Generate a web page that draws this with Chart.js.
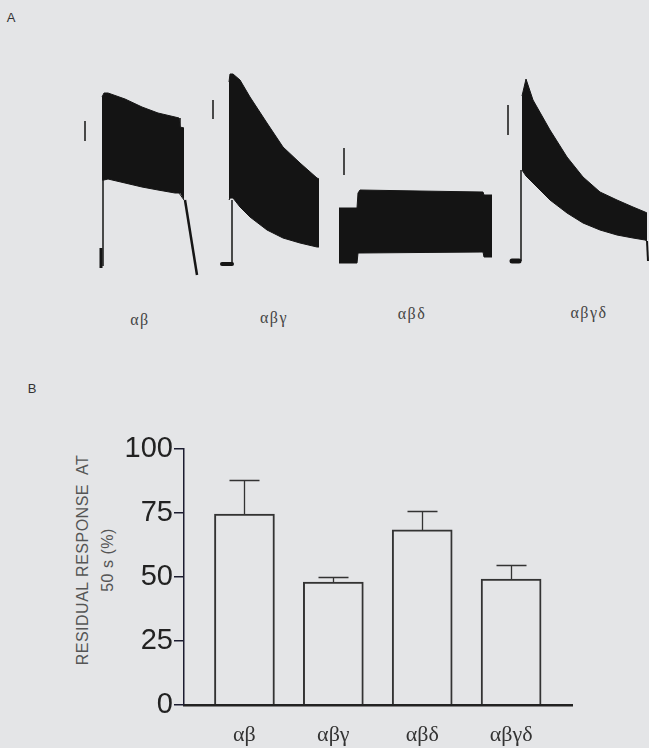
<!DOCTYPE html>
<html>
<head>
<meta charset="utf-8">
<script src="https://cdn.jsdelivr.net/npm/chart.js@4.4.1/dist/chart.umd.min.js"></script>
<style>
  html, body { margin: 0; padding: 0; }
  body {
    width: 649px; height: 748px; position: relative; overflow: hidden;
    background: #e4e5e7; font-family: "Liberation Sans", Arial, sans-serif;
  }
  canvas { position: absolute; left: 0; }
  #traces { top: 60px; }
  #bars { top: 370px; }
  .lbl { position: absolute; transform: translate(-50%, -50%); white-space: nowrap; line-height: 1; }
  .panel { font-size: 13px; color: #333; }
  .sub { font-family: "Liberation Serif", "Times New Roman", serif; font-size: 16px; letter-spacing: 1.5px; color: #444; }
  #ytitle {
    position: absolute; left: 95px; top: 560px; white-space: nowrap;
    transform: translate(-50%, -50%) rotate(-90deg);
    text-align: center; font-size: 16px; letter-spacing: 0.5px; line-height: 25px; color: #555;
  }
</style>
</head>
<body>
<div class="lbl panel" style="left:11px;top:17px">A</div>
<div class="lbl panel" style="left:32px;top:388px">B</div>

<div class="lbl sub" style="left:140px;top:320px">αβ</div>
<div class="lbl sub" style="left:274px;top:318px">αβγ</div>
<div class="lbl sub" style="left:412px;top:314px">αβδ</div>
<div class="lbl sub" style="left:589px;top:313px">αβγδ</div>

<div id="ytitle">RESIDUAL RESPONSE&nbsp; AT<br>50 s (%)</div>

<canvas id="traces" width="649" height="225"></canvas>
<canvas id="bars" width="649" height="378"></canvas>

<script>
// ---- Panel A: current traces (time in s from onset, current in pA) ----
// upper / lower edge of the black band at each time point
const abTime  = [0, 2, 6, 23, 40, 56, 73, 77, 78, 82];
const abUpper = [1690, 1730, 1730, 1670, 1590, 1530, 1490, 1480, 1390, 1380];
const abLower = [860, 860, 870, 830, 790, 760, 730, 730, 730, 660];

const abgTime  = [-1, 0, 3, 10, 20, 37, 53, 70, 87, 89];
const abgUpper = [1820, 1900, 1900, 1840, 1670, 1410, 1170, 1010, 860, 850];
const abgLower = [640, 660, 660, 570, 470, 340, 260, 210, 170, 170];

const abdTime  = [0, 18, 19, 21, 80, 144, 145, 153];
const abdUpper = [570, 570, 720, 750, 740, 730, 700, 700];
const abdLower = [20, 20, 120, 120, 125, 130, 80, 80];

const abgdTime  = [0, 4, 11, 28, 45, 61, 78, 95, 111, 123, 125];
const abgdUpper = [1650, 1820, 1610, 1310, 1040, 840, 690, 610, 540, 490, 480];
const abgdLower = [910, 850, 780, 610, 480, 380, 310, 260, 230, 210, 200];

// thin pieces of each trace: [t1, I1, t2, I2, width]
const abExtras   = [[-1, -20, -1, 180, 3], [1, 0, 1, 860, 1.5], [83, 660, 95, -90, 2.5]];
const abgExtras  = [[-8, 0, 2, 0, 4], [2, 0, 2, 640, 1.5]];
const abdExtras  = [];
const abgdExtras = [[-10, 0, -3, 0, 5], [-1, 0, -1, 910, 1.5], [125, 200, 126, 0, 2]];

// calibration bars [t, I from, I to]
const scaleBars = [[-17, 1450, 1250], [-17, 1640, 1450], [5, 1170, 900], [-14, 1560, 1260]];

// where each trace sits in the canvas (onset px, baseline px); 1 s = 1 px, 10 pA = 1 px
const traceOnsetPx = [102, 230, 339, 522];
const traceBasePx  = [266, 264, 265, 261];

const traces = [
  [abTime, abUpper, abLower, abExtras],
  [abgTime, abgUpper, abgLower, abgExtras],
  [abdTime, abdUpper, abdLower, abdExtras],
  [abgdTime, abgdUpper, abgdLower, abgdExtras]
];

const traceScales = {};
const traceSets = [];
traces.forEach(([time, upper, lower, extras], i) => {
  const xId = 'x' + i, yId = 'y' + i;
  traceScales[xId] = { type: 'linear', axis: 'x', display: false,
    min: -traceOnsetPx[i], max: 649 - traceOnsetPx[i] };
  traceScales[yId] = { type: 'linear', axis: 'y', display: false,
    min: (traceBasePx[i] - 285) * 10, max: (traceBasePx[i] - 60) * 10 };

  const line = (pts, w) => ({
    data: pts, xAxisID: xId, yAxisID: yId, borderColor: '#151515',
    borderWidth: w, pointRadius: 0, fill: false, borderCapStyle: 'butt'
  });
  traceSets.push(Object.assign(line(time.map((t, k) => ({ x: t, y: upper[k] })), 1),
    { fill: '+1', backgroundColor: '#141414' }));
  traceSets.push(line(time.map((t, k) => ({ x: t, y: lower[k] })), 1));
  extras.forEach(e => {
    const ds = line([{ x: e[0], y: e[1] }, { x: e[2], y: e[3] }], e[4]);
    if (e[4] >= 4) ds.borderCapStyle = 'round';
    traceSets.push(ds);
  });
  const sb = scaleBars[i];
  traceSets.push(line([{ x: sb[0], y: sb[1] }, { x: sb[0], y: sb[2] }], 1.5));
});

new Chart(document.getElementById('traces'), {
  type: 'line',
  data: { datasets: traceSets },
  options: {
    responsive: false, animation: false,
    layout: { padding: 0 },
    plugins: { legend: { display: false }, tooltip: { enabled: false } },
    scales: traceScales
  }
});

// ---- Panel B: residual response at 50 s (%) ----
const groups = ['αβ', 'αβγ', 'αβδ', 'αβγδ'];
const residual = [74.6, 48.0, 68.4, 49.2];
const residualSem = [13.3, 2.0, 7.4, 5.5];
const yTicks = [0, 25, 50, 75, 100];

const errorBars = {
  id: 'errorBars',
  afterDatasetsDraw(chart) {
    const { ctx, scales: { x, y } } = chart;
    ctx.save();
    ctx.strokeStyle = '#333';
    ctx.lineWidth = 1.3;
    residual.forEach((v, i) => {
      const px = Math.round(x.getPixelForValue(i)) + 0.5;
      const top = Math.round(y.getPixelForValue(v + residualSem[i])) + 0.5;
      const base = y.getPixelForValue(v);
      ctx.beginPath();
      ctx.moveTo(px, base);
      ctx.lineTo(px, top);
      ctx.moveTo(px - 15, top);
      ctx.lineTo(px + 15, top);
      ctx.stroke();
    });
    ctx.restore();
  }
};

new Chart(document.getElementById('bars'), {
  type: 'bar',
  data: {
    datasets: [{
      data: residual.map((v, i) => ({ x: i, y: v })),
      backgroundColor: 'rgba(0,0,0,0)',
      borderColor: '#333',
      borderWidth: 1.3,
      barThickness: 60
    }]
  },
  options: {
    responsive: false, animation: false,
    layout: { padding: { left: 0, right: 77, top: 79, bottom: 0 } },
    plugins: { legend: { display: false }, tooltip: { enabled: false } },
    scales: {
      x: {
        type: 'linear', min: -0.68, max: 3.685, offset: false,
        afterBuildTicks: s => { s.ticks = groups.map((_, i) => ({ value: i })); },
        afterFit: s => { s.height = 43; },
        grid: { display: false, drawTicks: false },
        border: { display: true, color: '#222', width: 2.5 },
        ticks: {
          autoSkip: false, maxRotation: 0, padding: 17,
          color: '#333',
          font: { family: '"Liberation Serif", "Times New Roman", serif', size: 22 },
          callback: v => groups[v]
        }
      },
      y: {
        min: 0, max: 100,
        afterBuildTicks: s => { s.ticks = yTicks.map(v => ({ value: v })); },
        afterFit: s => { s.width = 184; },
        grid: { drawOnChartArea: false, drawTicks: true, tickLength: 10, color: '#1c1c30', lineWidth: 1.5 },
        border: { display: true, color: '#1c1c30', width: 1.5 },
        ticks: {
          padding: 1, color: '#222',
          font: { family: '"Liberation Sans", Arial, sans-serif', size: 29 }
        }
      }
    }
  },
  plugins: [errorBars]
});
</script>
</body>
</html>
